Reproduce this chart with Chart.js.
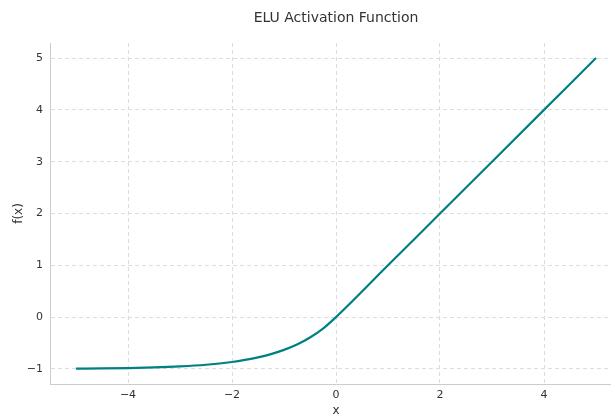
<!DOCTYPE html>
<html>
<head>
<meta charset="utf-8">
<script src="https://cdn.jsdelivr.net/npm/chart.js@4"></script>
<style>
html,body{margin:0;padding:0;background:#fff;overflow:hidden;}
#wrap{width:611px;height:418px;position:relative;overflow:hidden;}
</style>
</head>
<body>
<div id="wrap"><canvas id="c" width="622" height="418"></canvas></div>
<script>
const xValues = [-5, -4.5, -4, -3.5, -3, -2.5, -2, -1.75, -1.5, -1.25, -1, -0.75, -0.5, -0.25, 0, 1, 2, 3, 4, 5];
const yValues = [-0.993, -0.989, -0.982, -0.970, -0.950, -0.918, -0.865, -0.826, -0.777, -0.713, -0.632, -0.528, -0.393, -0.221, 0, 1, 2, 3, 4, 5];
const xTicks = [-4, -2, 0, 2, 4];
const yTicks = [-1, 0, 1, 2, 3, 4, 5];
const titleText = 'ELU Activation Function';
const xLabel = 'x';
const yLabel = 'f(x)';

const pts = xValues.map((x, i) => ({x: x, y: yValues[i]}));
const fmt = v => String(v).replace('-', '\u2212');
const FONT = 'DejaVu Sans';

const axesTitle = {
  id: 'axesTitle',
  afterDraw: chart => {
    const ctx = chart.ctx;
    const a = chart.chartArea;
    ctx.save();
    ctx.fillStyle = '#333333';
    ctx.font = '14px "' + FONT + '"';
    ctx.textAlign = 'center';
    ctx.textBaseline = 'middle';
    ctx.fillText(titleText, (a.left + a.right) / 2, 18);
    ctx.restore();
  }
};

new Chart(document.getElementById('c'), {
  type: 'line',
  data: {
    datasets: [{
      data: pts,
      borderColor: '#008080',
      borderWidth: 2.2,
      pointRadius: 0,
      fill: false,
      cubicInterpolationMode: 'monotone'
    }]
  },
  options: {
    responsive: false,
    animation: false,
    layout: {padding: {left: 0, right: 0, top: 43, bottom: 0}},
    plugins: {
      legend: {display: false},
      tooltip: {enabled: false},
      title: {display: false}
    },
    scales: {
      x: {
        type: 'linear',
        min: -5.5,
        max: 5.5,
        afterBuildTicks: s => { s.ticks = xTicks.map(v => ({value: v})); },
        afterFit: s => { s.height = 34; },
        ticks: {
          callback: v => fmt(v),
          color: '#333333',
          font: {family: FONT, size: 11},
          padding: 5,
          maxRotation: 0
        },
        grid: {color: '#dddddd', drawTicks: false, lineWidth: 1},
        border: {display: true, color: '#cccccc', dash: [4, 3], width: 1},
        title: {display: true, text: xLabel, color: '#333333', font: {family: FONT, size: 12}, padding: {top: 2, bottom: 0}}
      },
      y: {
        type: 'linear',
        min: -1.29,
        max: 5.29,
        afterBuildTicks: s => { s.ticks = yTicks.map(v => ({value: v})); },
        afterFit: s => { s.width = 50; },
        ticks: {
          callback: v => fmt(v),
          color: '#333333',
          font: {family: FONT, size: 11},
          padding: 7
        },
        grid: {color: '#dddddd', drawTicks: false, lineWidth: 1},
        border: {display: true, color: '#cccccc', dash: [4, 3], width: 1},
        title: {display: true, text: yLabel, color: '#333333', font: {family: FONT, size: 12}, padding: {top: 12, bottom: 0}}
      }
    }
  },
  plugins: [axesTitle]
});
</script>
</body>
</html>
